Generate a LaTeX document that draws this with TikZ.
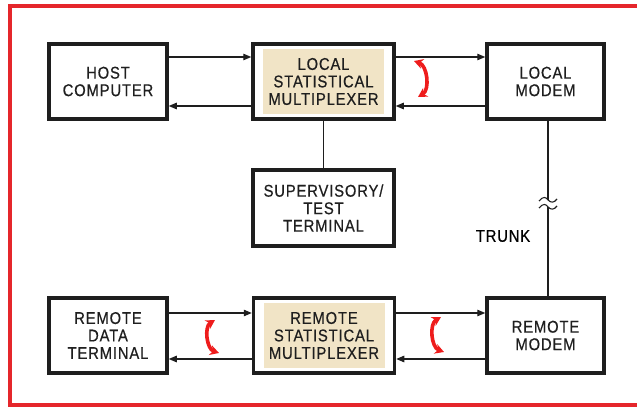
\documentclass[tikz,border=0pt]{standalone}
\usepackage{fontspec}
\setmainfont{Liberation Sans}[FakeStretch=0.87,LetterSpace=5,FakeBold=0.5]
\usetikzlibrary{positioning,arrows.meta,calc}
\definecolor{fr}{HTML}{E5262B}
\definecolor{bx}{HTML}{1E1E1E}
\definecolor{bg}{HTML}{F1E4C6}
\definecolor{ar}{HTML}{EE1C1C}

\begin{document}
\begin{tikzpicture}[x=1pt, y=-1pt,
  font=\fontsize{17}{17.5}\selectfont,
  blk/.style={draw=bx, line width=3.5pt, fill=white, align=center,
              text=black!88, minimum width=#1, minimum height=75pt, inner sep=0pt},
  mux/.style={blk=141pt, path picture={
      \fill[bg] ($(path picture bounding box.south west)+(10pt,5pt)$)
           rectangle ($(path picture bounding box.north east)+(-10pt,-5pt)$);}},
  sig/.style={-{Triangle[length=8pt,width=6.5pt]}, line width=1.1pt, bx},
  swap/.style={{Stealth[length=9pt,width=10pt]}-{Stealth[length=9pt,width=10pt]},
               line width=3.6pt, ar},
  wire/.style={line width=1.1pt, bx},
]
\useasboundingbox (0,0) rectangle (637,411);

% ---------- Marco ----------
\draw[fr, line width=4pt] (645,6) -- (10,6) -- (10,405) -- (645,405);

% ---------- Fila local ----------
\node[blk=118pt] (host) at (108,81.5) {HOST\\COMPUTER};
\node[mux] (lmux) at (323.5,81.5) {LOCAL\\STATISTICAL\\MULTIPLEXER};
\node[blk=117pt] (lmodem) at (545.5,81.5) {LOCAL\\MODEM};
\node[blk=141pt, minimum height=76pt] (sup) at (323.5,208)
  {SUPERVISORY/\\TEST\\TERMINAL};

% ---------- Fila remota ----------
\node[blk=118pt] (rdt) at (108,335.5) {REMOTE\\DATA\\TERMINAL};
\node[mux] (rmux) at (324,335.5) {REMOTE\\STATISTICAL\\MULTIPLEXER};
\node[blk=117pt] (rmodem) at (545.5,335.5) {REMOTE\\MODEM};

% ---------- Flechas ----------
\draw[sig] ([yshift=24.5pt]host.east) -- ([yshift=24.5pt]host.east -| lmux.west);
\draw[sig] ([yshift=-24.5pt]lmux.west) -- ([yshift=-24.5pt]lmux.west -| host.east);
\draw[sig] ([yshift=24.5pt]lmux.east) -- ([yshift=24.5pt]lmux.east -| lmodem.west);
\draw[sig] ([yshift=-24.5pt]lmodem.west) -- ([yshift=-24.5pt]lmodem.west -| lmux.east);
\draw[sig] ([yshift=22.5pt]rdt.east) -- ([yshift=22.5pt]rdt.east -| rmux.west);
\draw[sig] ([yshift=-23.5pt]rmux.west) -- ([yshift=-23.5pt]rmux.west -| rdt.east);
\draw[sig] ([yshift=22.5pt]rmux.east) -- ([yshift=22.5pt]rmux.east -| rmodem.west);
\draw[sig] ([yshift=-23.5pt]rmodem.west) -- ([yshift=-23.5pt]rmodem.west -| rmux.east);
\draw[wire] (lmux.south) -- (sup.north);

% ---------- Troncal ----------
\coordinate (cutA) at (548,200);
\coordinate (cutB) at (548,207);
\draw[wire] (lmodem.south -| cutA) -- (cutA);
\draw[wire] (cutB) -- (rmodem.north -| cutB);
\draw[wire] ($(cutA)+(-9,1)$) .. controls ($(cutA)+(-5,-4)$) and ($(cutA)+(-2,-3)$) .. (cutA)
  .. controls ($(cutA)+(3,3)$) and ($(cutA)+(6,3)$) .. ($(cutA)+(9,-1)$);
\draw[wire] ($(cutB)+(-9,1)$) .. controls ($(cutB)+(-5,-4)$) and ($(cutB)+(-2,-3)$) .. (cutB)
  .. controls ($(cutB)+(3,3)$) and ($(cutB)+(6,3)$) .. ($(cutB)+(9,-1)$);
\node (trunk) at (503,236) {TRUNK};

% ---------- Intercambio ----------
\coordinate (la) at (414,61);   \coordinate (lb) at (418,97);
\coordinate (ra) at (215,320);  \coordinate (rb) at (219,353);
\coordinate (ma) at (441,317);  \coordinate (mb) at (444,352);
\draw[swap] (la) to[bend left=65] (lb);
\draw[swap] (ra) to[bend right=65] (rb);
\draw[swap] (ma) to[bend right=65] (mb);
\end{tikzpicture}
\end{document}
